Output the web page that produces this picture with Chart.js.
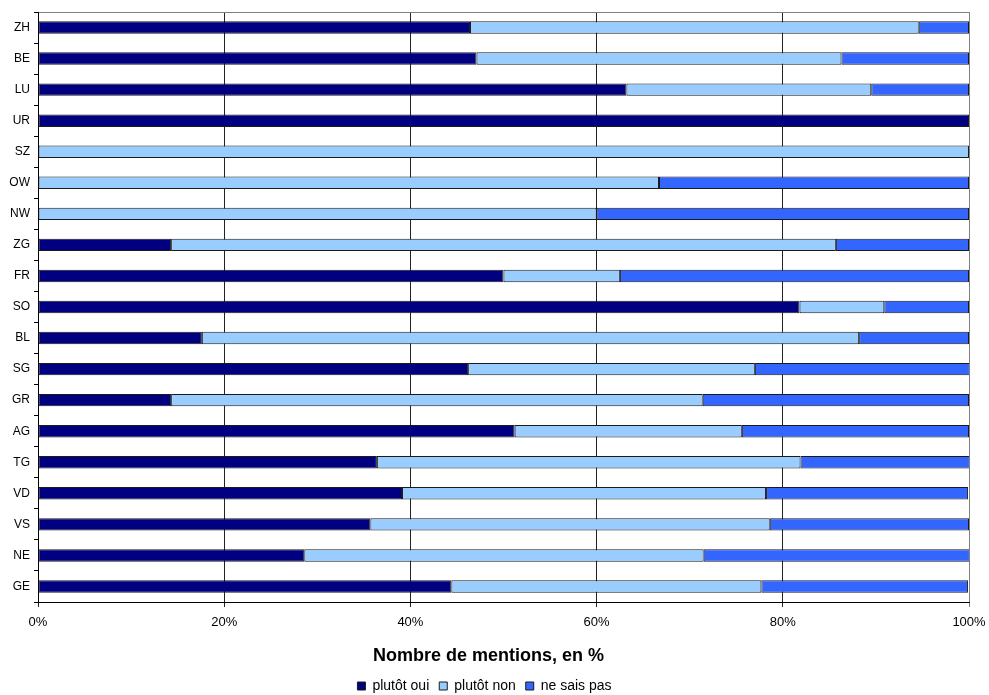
<!DOCTYPE html>
<html>
<head>
<meta charset="utf-8">
<script src="https://cdn.jsdelivr.net/npm/chart.js@4.4.1/dist/chart.umd.min.js"></script>
<style>
  html, body { margin: 0; padding: 0; background: #fff; }
  #wrap { width: 989px; height: 695px; }
</style>
</head>
<body>
<div id="wrap"><canvas id="chart"></canvas></div>
<script>
// cantons, top to bottom
const CANTONS = ['ZH','BE','LU','UR','SZ','OW','NW','ZG','FR','SO','BL','SG','GR','AG','TG','VD','VS','NE','GE'];

// shares in %
const PLUTOT_OUI = [46.4, 47.1, 63.2, 100, 0, 0, 0, 14.3, 50.0, 81.8, 17.6, 46.2, 14.3, 51.2, 36.4, 39.1, 35.7, 28.6, 44.4];
const PLUTOT_NON = [48.2, 39.2, 26.3, 0, 100, 66.7, 60.0, 71.4, 12.5, 9.1, 70.6, 30.8, 57.1, 24.4, 45.5, 39.1, 42.9, 42.9, 33.3];
const NE_SAIS_PAS = [5.4, 13.7, 10.5, 0, 0, 33.3, 40.0, 14.3, 37.5, 9.1, 11.8, 23.1, 28.6, 24.4, 18.2, 21.7, 21.4, 28.6, 22.2];

const SERIES = ['plutôt oui', 'plutôt non', 'ne sais pas'];
const COLORS = ['#000080', '#99ccff', '#3366ff'];
const X_TICKS = [0, 20, 40, 60, 80, 100];

const FONT = '"Liberation Sans", Arial, Helvetica, sans-serif';
Chart.defaults.font.family = FONT;
Chart.defaults.color = '#000';
Chart.defaults.animation = false;
Chart.defaults.maintainAspectRatio = false;

function ds(label, data, i){
  return {
    label, data,
    backgroundColor: COLORS[i],
    borderColor: '#1a1a1a',
    borderWidth: 1,
    borderSkipped: false,
    categoryPercentage: 1,
    barPercentage: 0.4
  };
}

new Chart(document.getElementById('chart'), {
  type: 'bar',
  data: {
    labels: CANTONS,
    datasets: [
      ds(SERIES[0], PLUTOT_OUI, 0),
      ds(SERIES[1], PLUTOT_NON, 1),
      ds(SERIES[2], NE_SAIS_PAS, 2)
    ]
  },
  options: {
    indexAxis: 'y',
    responsive: true,
    layout: { padding: { top: 12, right: 20, bottom: -8, left: 0 } },
    scales: {
      x: {
        stacked: true,
        min: 0, max: 100,
        afterBuildTicks: s => { s.ticks = X_TICKS.map(v => ({ value: v })); },
        afterFit: s => { s.height = 67; s.paddingLeft = 0; s.paddingRight = 0; },
        ticks: { callback: v => v + '%', font: { size: 13 }, padding: 8, maxRotation: 0 },
        grid: {
          color: c => (c.tick && c.tick.value === 100) ? '#808080' : '#222',
          lineWidth: 1, tickLength: 5
        },
        border: { color: '#000' },
        title: {
          display: true,
          text: 'Nombre de mentions, en %' + '\u00a0'.repeat(6),
          font: { size: 18, weight: 'bold' },
          padding: { top: 0, bottom: 2 }
        }
      },
      x2: {
        type: 'linear', position: 'top', min: 0, max: 100,
        afterFit: s => { s.height = 0; s.paddingLeft = 0; s.paddingRight = 0; },
        ticks: { display: false },
        grid: { display: false },
        border: { color: '#808080' }
      },
      y: {
        stacked: true,
        afterFit: s => { s.width = 38; },
        ticks: { font: { size: 12 }, padding: 4 },
        grid: { drawOnChartArea: false, tickLength: 4, color: '#000' },
        border: { color: '#000' }
      }
    },
    plugins: {
      tooltip: { enabled: false },
      legend: {
        position: 'bottom',
        labels: { boxWidth: 8, boxHeight: 8, font: { size: 14 }, padding: 10, color: '#000' }
      }
    }
  }
});
</script>
</body>
</html>
